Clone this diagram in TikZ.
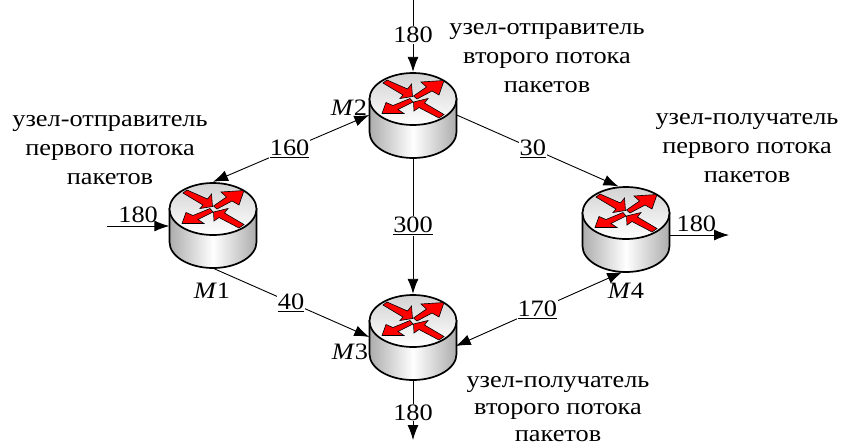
\documentclass[tikz,border=0pt]{standalone}
\usepackage{fontspec}
\setmainfont[FakeStretch=1.12]{Liberation Serif}
\usetikzlibrary{arrows.meta,shapes.geometric}
\begin{document}
\begin{tikzpicture}[x=1pt,y=-1pt,font=\fontsize{23.5}{29}\selectfont]
      \tikzstyle{routernode}=[ellipse,minimum width=87pt,minimum height=86pt,inner sep=0pt]
      \tikzstyle{redarrow}=[draw=black,fill=red,line width=0.6pt,line join=miter]
      \tikzstyle{flow}=[-{Latex[length=15pt,width=11pt]},line width=0.9pt]
      \tikzstyle{biflow}=[{Latex[length=15pt,width=11pt]}-{Latex[length=15pt,width=11pt]},line width=0.9pt]
      \tikzstyle{load}=[fill=white,inner sep=1pt]
      \tikzstyle{caption}=[align=center,inner sep=0pt]
      \tikzset{
        router/.pic={
          \draw[line width=1.7pt,left color=gray!65,right color=gray!65,middle color=white]
            (-43.5,-16) -- (-43.5,17) arc[start angle=180,end angle=0,x radius=43.5,y radius=26] -- (43.5,-16) -- cycle;
          \draw[line width=1.7pt,top color=gray!35,bottom color=white] (0,-16) ellipse[x radius=43.5,y radius=26];
          \begin{scope}[shift={(0,-16)}]
            \draw[redarrow] (-30,-16) -- (-10,-4) -- (-13,-0.5) -- (-0.5,-2.5) -- (-1.5,-15) -- (-5.5,-10) -- (-26,-19) -- cycle;
            \draw[redarrow] (0.5,-3) -- (13.5,-12) -- (8,-17) -- (31,-18.5) -- (26,-4) -- (19,-8) -- (4,0) -- cycle;
            \draw[redarrow] (0.5,3) -- (1,12) -- (6,8.5) -- (26,19) -- (31,15.5) -- (11.5,4) -- (15,-0.5) -- cycle;
            \draw[redarrow] (-31,14.5) -- (-27,3.5) -- (-20,6.5) -- (-3,-0.5) -- (0,3) -- (-15,10.5) -- (-9,14.5) -- cycle;
          \end{scope}
        }
      }
      \useasboundingbox (0,0) rectangle (843,445);

      \node[routernode] (M1) at (213,225) {};
      \node[routernode] (M2) at (413,115) {};
      \node[routernode] (M3) at (413,337) {};
      \node[routernode] (M4) at (626,229) {};
      \coordinate (in1) at (107,226);
      \coordinate (in2) at (413,0);
      \coordinate (out1) at (729,235);
      \coordinate (out2) at (413,440);

      \draw[flow] (in1) -- (M1.west |- in1) node[pos=0.5,above=-1pt] (a1) {180};
      \draw[flow] (in2) -- node[load,pos=0.49] (a2) {180} (M2.north);
      \draw[flow] (M4.east |- out1) -- (out1) node[pos=0.45,above=-1pt] (a3) {180};
      \draw[flow] (M3.south) -- node[load,pos=0.54] (a4) {180} (out2);
      \draw[biflow] (M1.north) -- node[load,pos=0.49] (l160) {\underline{160}} (M2.west);
      \draw[flow] (M2.east) -- node[load,pos=0.47] (l30) {\underline{30}} (M4.100);
      \draw[flow] (M2.south) -- node[load,pos=0.5] (l300) {\underline{300}} (M3.north);
      \draw[flow] (M1.south) -- node[load,pos=0.5] (l40) {\underline{40}} (M3.west);
      \draw[biflow] (M3.-12) -- node[load,pos=0.49] (l170) {\underline{170}} (M4.-95);

      \pic at (M1) {router};
      \pic at (M2) {router};
      \pic at (M3) {router};
      \pic at (M4) {router};

      \node (n1) at (212,291) {\textit{M}1};
      \node (n2) at (349,108) {\textit{M}2};
      \node (n3) at (350,352) {\textit{M}3};
      \node (n4) at (626,291) {\textit{M}4};

      \node[caption] (c1) at (110,150) {узел-отправитель\\первого потока\\пакетов};
      \node[caption] (c2) at (547,58) {узел-отправитель\\второго потока\\пакетов};
      \node[caption] (c3) at (747,148) {узел-получатель\\первого потока\\пакетов};
      \node[caption] (c4) at (558,409) {узел-получатель\\[-2pt]второго потока\\[-2pt]пакетов};
    \end{tikzpicture}
\end{document}
